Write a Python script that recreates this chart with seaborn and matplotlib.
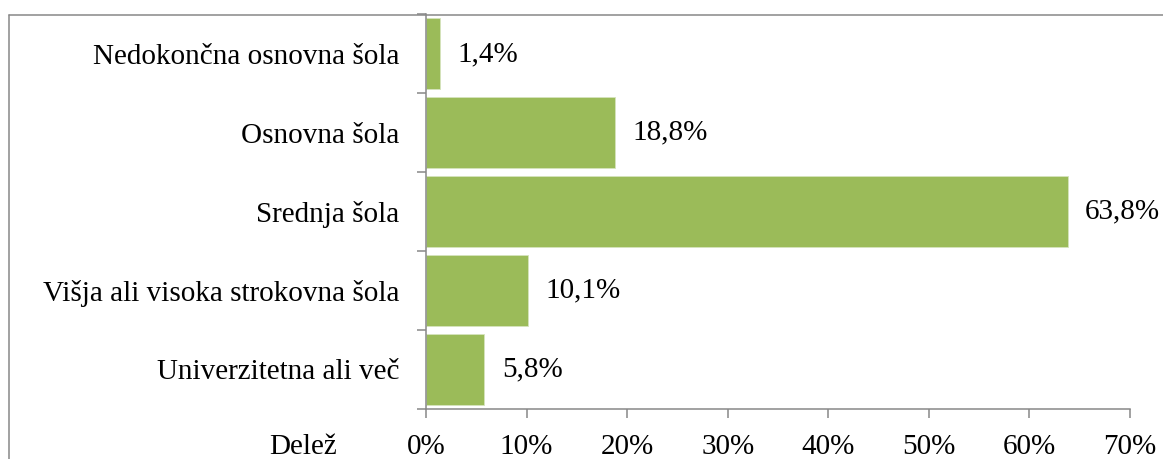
import matplotlib
matplotlib.use("Agg")
import matplotlib.pyplot as plt
from matplotlib.lines import Line2D
from matplotlib.ticker import FixedLocator
import seaborn as sns
import pandas as pd

categories = ["Nedokončna osnovna šola", "Osnovna šola", "Srednja šola",
              "Višja ali visoka strokovna šola", "Univerzitetna ali več"]
shares = [1.4, 18.8, 63.8, 10.1, 5.8]
x_ticks = [0, 10, 20, 30, 40, 50, 60, 70]
x_tick_labels = ["0%", "10%", "20%", "30%", "40%", "50%", "60%", "70%"]
axis_label = "Delež"

sns.set_theme(style="white")
plt.rcParams["font.family"] = ["Liberation Serif", "DejaVu Serif"]

FS = 21
W, H = 1163, 459
fig = plt.figure(figsize=(W / 100, H / 100), dpi=100)
ax = fig.add_axes([426 / W, 1 - 408.5 / H, (1130 - 426) / W, (408.5 - 14.5) / H])

df = pd.DataFrame({"Kategorija": categories, "Delež": shares})
sns.barplot(data=df, x="Delež", y="Kategorija", orient="h", color="#9BBB59",
            saturation=1, width=0.9, edgecolor="#d6e4bd", linewidth=0.6, ax=ax)

grey = "#888888"
ax.set_xlim(0, 70)
ax.set_ylim(4.5, -0.5)
ax.set_xticks(x_ticks)
ax.set_xticklabels(x_tick_labels, fontsize=FS)
ax.set_yticks(range(len(categories)))
ax.set_yticklabels(categories, fontsize=FS)
ax.yaxis.set_minor_locator(FixedLocator([i - 0.5 for i in range(len(categories) + 1)]))
ax.tick_params(axis="y", which="major", length=0, pad=19)
ax.tick_params(axis="y", which="minor", length=6.5, width=1.1, color=grey, left=True)
ax.tick_params(axis="x", which="major", length=6.5, width=1.1, color=grey, pad=12, bottom=True)
for lbl in ax.get_xticklabels() + ax.get_yticklabels():
    lbl.set_color("black")

ax.set_xlabel("")
ax.set_ylabel("")
for s in ["top", "right"]:
    ax.spines[s].set_visible(False)
for s in ["left", "bottom"]:
    ax.spines[s].set_color(grey)
    ax.spines[s].set_linewidth(1.1)

for i, v in enumerate(shares):
    ax.annotate(f"{v:.1f}".replace(".", ",") + "%", xy=(v, i), xytext=(12.5, 0),
                textcoords="offset points", ha="left", va="center", fontsize=FS,
                color="black")

ax.text(-0.175, -0.116, axis_label, transform=ax.transAxes, ha="center",
        va="baseline", fontsize=FS, color="black")

# outer chart border (top and left visible)
fig.add_artist(Line2D([8.5 / W, 1.0], [1 - 15 / H, 1 - 15 / H], color=grey,
                      linewidth=1.1, transform=fig.transFigure))
fig.add_artist(Line2D([8.5 / W, 8.5 / W], [1 - 15 / H, 0], color=grey,
                      linewidth=1.1, transform=fig.transFigure))

fig.savefig("out.png", dpi=100)
